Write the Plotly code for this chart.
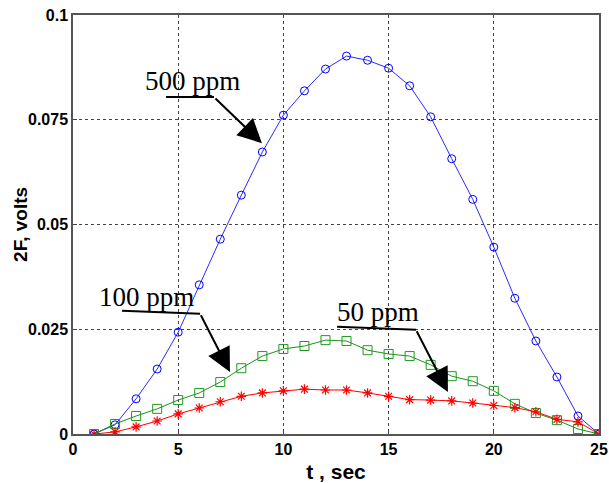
import plotly.graph_objects as go

# time axis, seconds
t = list(range(1, 26))

# 2F signal, volts
ppm_500 = [0.0, 0.0022, 0.0084, 0.0155, 0.0243, 0.0356, 0.0465, 0.0570, 0.0673, 0.0761,
           0.0819, 0.0871, 0.0902, 0.0892, 0.0873, 0.0831, 0.0757, 0.0657, 0.0560, 0.0446,
           0.0324, 0.0222, 0.0136, 0.0043, 0.0]
ppm_100 = [0.0, 0.0024, 0.0043, 0.0060, 0.0081, 0.0098, 0.0124, 0.0157, 0.0186, 0.0203,
           0.0210, 0.0224, 0.0222, 0.0200, 0.0191, 0.0186, 0.0165, 0.0138, 0.0126, 0.0103,
           0.0072, 0.0050, 0.0033, 0.0012, 0.0]
ppm_50 = [0.0, 0.0005, 0.0017, 0.0031, 0.0048, 0.0062, 0.0077, 0.0090, 0.0098, 0.0103,
          0.0107, 0.0105, 0.0105, 0.0098, 0.0090, 0.0082, 0.0081, 0.0079, 0.0074, 0.0068,
          0.0063, 0.0053, 0.0035, 0.0029, 0.0]

x_ticks = [0, 5, 10, 15, 20, 25]
y_ticks = [0, 0.025, 0.05, 0.075, 0.1]
y_tick_text = ["0", "0.025", "0.05", "0.075", "0.1"]

fig = go.Figure()

fig.add_trace(go.Scatter(
    x=t, y=ppm_500, mode="lines+markers", name="500 ppm",
    line=dict(color="#2b2bff", width=1),
    marker=dict(symbol="circle-open", size=8, color="#0000ff", line=dict(width=1))
))
fig.add_trace(go.Scatter(
    x=t, y=ppm_100, mode="lines+markers", name="100 ppm",
    line=dict(color="#1f8f1f", width=1),
    marker=dict(symbol="square-open", size=9, color="#1f9a1f", line=dict(width=1))
))
fig.add_trace(go.Scatter(
    x=t, y=ppm_50, mode="lines+markers", name="50 ppm",
    line=dict(color="#ff0000", width=1),
    marker=dict(symbol="asterisk-open", size=8, color="#ff0000", line=dict(width=1.2))
))

# labels with underline leader and arrow (MATLAB-style callouts)
callouts = [
    # text, text x, text y, leader start, leader end, arrow tip
    ("500 ppm", 5.70, 0.0842, (4.42, 0.0804), (6.70, 0.0804), (8.98, 0.0694)),
    ("100 ppm", 3.47, 0.0328, (2.33, 0.0294), (6.04, 0.0287), (7.46, 0.0148)),
    ("50 ppm", 14.5, 0.0292, (12.55, 0.0256), (16.30, 0.0249), (17.82, 0.0100)),
]
for label, tx, ty, p0, p1, tip in callouts:
    fig.add_annotation(
        x=tx, y=ty, text=label, showarrow=False,
        font=dict(family="Liberation Serif", size=27, color="black")
    )
    fig.add_shape(type="line", x0=p0[0], y0=p0[1], x1=p1[0], y1=p1[1],
                  line=dict(color="black", width=2))
    fig.add_annotation(
        x=tip[0], y=tip[1], ax=p1[0], ay=p1[1], axref="x", ayref="y",
        text="", showarrow=True, arrowhead=2, arrowsize=2.4, arrowwidth=2,
        arrowcolor="black", standoff=0
    )

# y axis title placed like the original
fig.add_annotation(
    x=-0.1, y=0.5, xref="paper", yref="paper", text="2F, volts",
    textangle=-90, showarrow=False, xanchor="center", yanchor="middle",
    font=dict(family="Liberation Sans", size=19, color="black", weight="bold")
)

axis_common = dict(
    showgrid=True, gridcolor="#444444", griddash="3px,3px", gridwidth=1,
    showline=True, linecolor="#555555", linewidth=1.5, mirror=True,
    ticks="inside", ticklen=4, tickcolor="#444444",
    zeroline=False, automargin=False, ticklabeloverflow="allow",
    tickfont=dict(family="Liberation Sans", size=16, color="black", weight="bold"),
)

fig.update_xaxes(
    range=[0, 25], tickvals=x_ticks,
    title=dict(text="t , sec", standoff=8,
               font=dict(family="Liberation Sans", size=21, color="black", weight="bold")),
    **axis_common
)
fig.update_yaxes(
    range=[0, 0.1], tickvals=y_ticks, ticktext=y_tick_text,
    **axis_common
)

fig.update_layout(
    width=609, height=483,
    margin=dict(l=73, r=10, t=15, b=49),
    plot_bgcolor="white", paper_bgcolor="white",
    showlegend=False,
)

# drop the default page margin so the figure fills the window exactly
fig.write_html("out.html", config={"displayModeBar": False},
               post_script="document.body.style.margin='0';")
